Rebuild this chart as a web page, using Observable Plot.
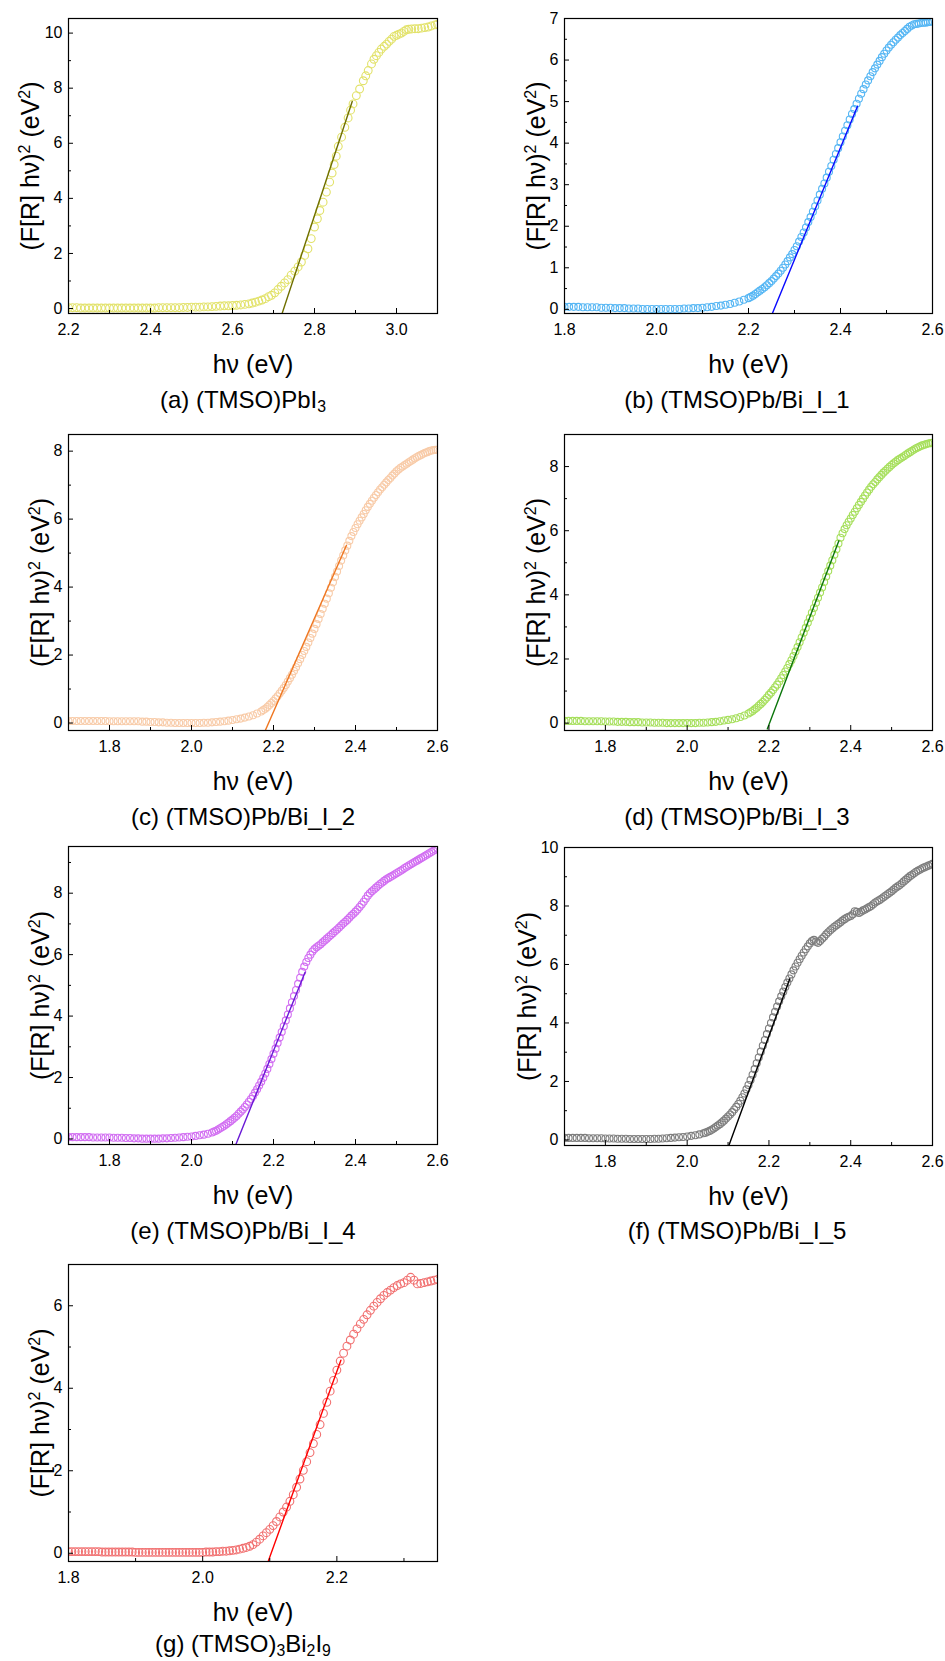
<!DOCTYPE html>
<html><head><meta charset="utf-8">
<script src="https://cdn.jsdelivr.net/npm/d3@7"></script>
<script src="https://cdn.jsdelivr.net/npm/@observablehq/plot@0.6"></script>
<style>
body{margin:0;background:#fff;}
#wrap{position:relative;width:945px;height:1661px;overflow:hidden;font-family:'Liberation Sans',Arial,sans-serif;background:#fff;}
.cap{position:absolute;font-size:24px;line-height:24px;white-space:nowrap;transform:translateX(-50%);color:#000;}
.cap .s{font-size:0.66em;vertical-align:-0.24em;}
</style></head><body><div id="wrap"></div>
<script>
// ---------------- DATA ----------------
const xTitle = "hν (eV)";
const yTitle = "(F[R] hν)² (eV²)";
const captions = [
  "(a) (TMSO)PbI<span class='s'>3</span>",
  "(b) (TMSO)Pb/Bi_I_1",
  "(c) (TMSO)Pb/Bi_I_2",
  "(d) (TMSO)Pb/Bi_I_3",
  "(e) (TMSO)Pb/Bi_I_4",
  "(f) (TMSO)Pb/Bi_I_5",
  "(g) (TMSO)<span class='s'>3</span>Bi<span class='s'>2</span>I<span class='s'>9</span>"
];

// (a) (TMSO)PbI3
const seriesA = [
[2.20,0.03],[2.21,0.03],[2.22,0.03],[2.23,0.02],[2.24,0.02],[2.25,0.02],[2.26,0.02],[2.27,0.02],[2.28,0.02],[2.29,0.02],
[2.30,0.02],[2.31,0.02],[2.32,0.02],[2.33,0.02],[2.34,0.02],[2.35,0.02],[2.36,0.02],[2.37,0.02],[2.38,0.02],[2.39,0.02],
[2.40,0.02],[2.41,0.02],[2.42,0.03],[2.43,0.03],[2.44,0.03],[2.45,0.03],[2.46,0.03],[2.47,0.03],[2.48,0.04],[2.49,0.04],
[2.50,0.05],[2.51,0.05],[2.52,0.05],[2.53,0.06],[2.54,0.06],[2.55,0.07],[2.56,0.08],[2.57,0.09],[2.58,0.10],[2.59,0.10],
[2.600,0.11],[2.610,0.12],[2.620,0.13],[2.630,0.15],[2.640,0.17],[2.648,0.20],[2.656,0.23],[2.664,0.27],[2.672,0.31],[2.680,0.36],
[2.688,0.43],[2.695,0.48],[2.703,0.57],[2.711,0.69],[2.719,0.81],[2.727,0.93],[2.735,1.05],[2.743,1.21],[2.752,1.36],[2.760,1.51],
[2.768,1.69],[2.776,1.93],[2.784,2.17],[2.792,2.54],[2.800,2.96],[2.807,3.26],[2.813,3.56],[2.821,3.86],[2.829,4.23],[2.837,4.59],
[2.843,4.92],[2.848,5.23],[2.853,5.53],[2.858,5.89],[2.866,6.22],[2.874,6.58],[2.882,6.92],[2.888,7.20],[2.894,7.43],[2.902,7.73],
[2.910,7.97],[2.919,8.27],[2.925,8.45],[2.931,8.64],[2.939,8.88],[2.945,9.05],[2.951,9.18],[2.957,9.30],[2.963,9.42],[2.970,9.52],
[2.976,9.60],[2.982,9.70],[2.988,9.78],[2.994,9.88],[3.000,9.92],[3.006,9.96],[3.012,10.00],[3.018,10.06],[3.024,10.12],[3.030,10.14],
[3.037,10.15],[3.045,10.16],[3.053,10.16],[3.061,10.18],[3.069,10.20],[3.077,10.22],[3.085,10.26],[3.094,10.30],[3.100,10.32]
];
const fitA = [[2.721,-0.18],[2.892,7.52]];

// (b) (TMSO)Pb/Bi_I_1
const seriesB = [
[1.80,0.06],[1.81,0.06],[1.82,0.06],[1.83,0.06],[1.84,0.05],[1.85,0.05],[1.86,0.05],[1.87,0.05],[1.88,0.04],[1.89,0.04],
[1.90,0.04],[1.91,0.03],[1.92,0.03],[1.93,0.03],[1.94,0.02],[1.95,0.02],[1.96,0.02],[1.97,0.01],[1.98,0.01],[1.99,0.01],
[2.00,0.01],[2.01,0.01],[2.02,0.01],[2.03,0.01],[2.04,0.01],[2.05,0.01],[2.06,0.02],[2.07,0.02],[2.08,0.03],[2.09,0.03],
[2.10,0.04],[2.11,0.05],[2.12,0.06],[2.13,0.08],[2.14,0.09],[2.15,0.11],[2.16,0.13],[2.17,0.16],[2.18,0.19],[2.19,0.23],
[2.20,0.27],[2.205,0.30],[2.21,0.33],[2.215,0.37],[2.22,0.41],[2.225,0.45],[2.23,0.49],[2.235,0.53],[2.24,0.58],[2.245,0.63],
[2.25,0.68],[2.255,0.74],[2.26,0.80],[2.265,0.86],[2.27,0.93],[2.275,1.00],[2.28,1.08],[2.285,1.16],[2.29,1.25],[2.295,1.33],
[2.30,1.43],[2.305,1.52],[2.31,1.63],[2.315,1.74],[2.32,1.85],[2.325,1.97],[2.33,2.10],[2.335,2.22],[2.34,2.35],[2.345,2.48],
[2.35,2.62],[2.355,2.76],[2.36,2.90],[2.365,3.03],[2.37,3.17],[2.375,3.31],[2.38,3.45],[2.385,3.60],[2.39,3.74],[2.395,3.88],
[2.40,4.02],[2.405,4.16],[2.41,4.30],[2.415,4.43],[2.42,4.57],[2.425,4.70],[2.43,4.82],[2.435,4.95],[2.44,5.07],[2.445,5.19],
[2.45,5.30],[2.455,5.41],[2.46,5.51],[2.465,5.61],[2.47,5.71],[2.475,5.80],[2.48,5.89],[2.485,5.98],[2.49,6.07],[2.495,6.15],
[2.50,6.23],[2.505,6.30],[2.51,6.37],[2.515,6.43],[2.52,6.49],[2.525,6.54],[2.53,6.60],[2.535,6.65],[2.54,6.70],[2.545,6.75],
[2.55,6.80],[2.555,6.83],[2.56,6.86],[2.565,6.87],[2.57,6.88],[2.575,6.89],[2.58,6.90],[2.585,6.90],[2.59,6.91],[2.595,6.92],[2.60,6.93]
];
const fitB = [[2.252,-0.096],[2.437,4.89]];

// (c) (TMSO)Pb/Bi_I_2
const seriesC = [
[1.70,0.06],[1.71,0.06],[1.72,0.06],[1.73,0.06],[1.74,0.06],[1.75,0.06],[1.76,0.06],[1.77,0.06],[1.78,0.06],[1.79,0.06],
[1.80,0.05],[1.81,0.05],[1.82,0.05],[1.83,0.05],[1.84,0.05],[1.85,0.05],[1.86,0.05],[1.87,0.05],[1.88,0.04],[1.89,0.04],
[1.90,0.03],[1.91,0.03],[1.92,0.02],[1.93,0.02],[1.94,0.01],[1.95,0.01],[1.96,0.00],[1.97,0.00],[1.98,0.00],[1.99,0.00],
[2.00,0.00],[2.01,0.00],[2.02,0.00],[2.03,0.01],[2.04,0.01],[2.05,0.02],[2.06,0.03],[2.07,0.04],[2.08,0.05],[2.09,0.07],
[2.10,0.09],[2.11,0.11],[2.12,0.13],[2.13,0.16],[2.14,0.19],[2.15,0.23],[2.16,0.28],[2.17,0.34],[2.175,0.38],[2.18,0.42],
[2.185,0.47],[2.19,0.53],[2.195,0.59],[2.20,0.65],[2.205,0.72],[2.21,0.79],[2.215,0.87],[2.22,0.95],[2.225,1.03],[2.23,1.12],
[2.235,1.22],[2.24,1.32],[2.245,1.42],[2.25,1.53],[2.255,1.64],[2.26,1.76],[2.265,1.88],[2.27,2.00],[2.275,2.12],[2.28,2.24],
[2.285,2.37],[2.29,2.50],[2.295,2.63],[2.30,2.77],[2.305,2.91],[2.31,3.06],[2.315,3.21],[2.32,3.36],[2.325,3.51],[2.33,3.66],
[2.335,3.82],[2.34,3.98],[2.345,4.14],[2.35,4.30],[2.355,4.46],[2.36,4.62],[2.365,4.78],[2.37,4.93],[2.375,5.08],[2.38,5.22],
[2.385,5.36],[2.39,5.50],[2.395,5.62],[2.40,5.74],[2.405,5.85],[2.41,5.95],[2.415,6.05],[2.42,6.15],[2.425,6.26],[2.43,6.36],
[2.435,6.45],[2.44,6.54],[2.445,6.63],[2.45,6.71],[2.455,6.79],[2.46,6.87],[2.465,6.94],[2.47,7.01],[2.475,7.08],[2.48,7.15],
[2.485,7.21],[2.49,7.28],[2.495,7.34],[2.50,7.41],[2.505,7.46],[2.51,7.51],[2.515,7.55],[2.52,7.59],[2.525,7.63],[2.53,7.67],
[2.535,7.71],[2.54,7.75],[2.545,7.79],[2.55,7.83],[2.555,7.86],[2.56,7.89],[2.565,7.92],[2.57,7.95],[2.575,7.97],[2.58,8.00],
[2.585,8.02],[2.59,8.03],[2.595,8.04],[2.60,8.04]
];
const fitC = [[2.180,-0.22],[2.378,5.23]];

// (d) (TMSO)Pb/Bi_I_3
const seriesD = [
[1.70,0.07],[1.71,0.07],[1.72,0.07],[1.73,0.07],[1.74,0.07],[1.75,0.06],[1.76,0.06],[1.77,0.06],[1.78,0.06],[1.79,0.06],
[1.80,0.05],[1.81,0.05],[1.82,0.05],[1.83,0.04],[1.84,0.04],[1.85,0.04],[1.86,0.03],[1.87,0.03],[1.88,0.03],[1.89,0.02],
[1.90,0.02],[1.91,0.02],[1.92,0.01],[1.93,0.01],[1.94,0.01],[1.95,0.00],[1.96,0.00],[1.97,0.00],[1.98,0.00],[1.99,0.00],
[2.00,0.00],[2.01,0.00],[2.02,0.00],[2.03,0.01],[2.04,0.01],[2.05,0.02],[2.06,0.03],[2.07,0.04],[2.08,0.06],[2.09,0.08],
[2.10,0.10],[2.11,0.12],[2.12,0.15],[2.13,0.19],[2.14,0.24],[2.15,0.30],[2.155,0.34],[2.16,0.38],[2.165,0.43],[2.17,0.48],
[2.175,0.54],[2.18,0.60],[2.185,0.66],[2.19,0.73],[2.195,0.80],[2.20,0.88],[2.205,0.95],[2.21,1.03],[2.215,1.12],[2.22,1.20],
[2.225,1.30],[2.23,1.40],[2.235,1.50],[2.24,1.61],[2.245,1.72],[2.25,1.84],[2.255,1.96],[2.26,2.09],[2.265,2.23],[2.27,2.37],
[2.275,2.52],[2.28,2.67],[2.285,2.82],[2.29,2.97],[2.295,3.13],[2.30,3.28],[2.305,3.44],[2.31,3.59],[2.315,3.75],[2.32,3.91],
[2.325,4.07],[2.33,4.23],[2.335,4.40],[2.34,4.57],[2.345,4.74],[2.35,4.91],[2.355,5.08],[2.36,5.25],[2.365,5.42],[2.37,5.60],
[2.375,5.78],[2.38,5.92],[2.385,6.05],[2.39,6.17],[2.395,6.28],[2.40,6.38],[2.405,6.49],[2.41,6.59],[2.415,6.70],[2.42,6.80],
[2.425,6.90],[2.43,7.00],[2.435,7.10],[2.44,7.19],[2.445,7.28],[2.45,7.37],[2.455,7.45],[2.46,7.52],[2.465,7.60],[2.47,7.67],
[2.475,7.74],[2.48,7.81],[2.485,7.87],[2.49,7.93],[2.495,7.99],[2.50,8.05],[2.505,8.10],[2.51,8.15],[2.515,8.20],[2.52,8.24],
[2.525,8.28],[2.53,8.32],[2.535,8.37],[2.54,8.41],[2.545,8.45],[2.55,8.49],[2.555,8.53],[2.56,8.57],[2.565,8.60],[2.57,8.63],
[2.575,8.66],[2.58,8.68],[2.585,8.70],[2.59,8.72],[2.595,8.73],[2.60,8.74]
];
const fitD = [[2.196,-0.18],[2.371,5.69]];

// (e) (TMSO)Pb/Bi_I_4
const seriesE = [
[1.70,0.06],[1.71,0.06],[1.72,0.06],[1.73,0.06],[1.74,0.06],[1.75,0.06],[1.76,0.05],[1.77,0.05],[1.78,0.05],[1.79,0.05],
[1.80,0.05],[1.81,0.04],[1.82,0.04],[1.83,0.04],[1.84,0.03],[1.85,0.03],[1.86,0.02],[1.87,0.02],[1.88,0.01],[1.89,0.01],
[1.90,0.01],[1.91,0.01],[1.92,0.01],[1.93,0.02],[1.94,0.02],[1.95,0.03],[1.96,0.04],[1.97,0.05],[1.98,0.06],[1.99,0.07],
[2.00,0.08],[2.01,0.10],[2.02,0.12],[2.03,0.14],[2.04,0.17],[2.05,0.21],[2.055,0.24],[2.06,0.27],[2.065,0.31],[2.07,0.35],
[2.075,0.39],[2.08,0.43],[2.085,0.48],[2.09,0.53],[2.095,0.58],[2.10,0.63],[2.105,0.69],[2.11,0.75],[2.115,0.82],[2.12,0.89],
[2.125,0.96],[2.13,1.04],[2.135,1.12],[2.14,1.21],[2.145,1.30],[2.15,1.40],[2.155,1.51],[2.16,1.62],[2.165,1.74],[2.17,1.86],
[2.175,1.99],[2.18,2.13],[2.185,2.28],[2.19,2.44],[2.195,2.60],[2.20,2.77],[2.205,2.94],[2.21,3.12],[2.215,3.30],[2.22,3.48],
[2.225,3.67],[2.23,3.86],[2.235,4.05],[2.24,4.25],[2.245,4.45],[2.25,4.65],[2.255,4.85],[2.26,5.05],[2.265,5.25],[2.27,5.44],
[2.275,5.61],[2.28,5.76],[2.285,5.89],[2.29,6.00],[2.295,6.10],[2.30,6.18],[2.305,6.24],[2.31,6.29],[2.315,6.34],[2.32,6.40],
[2.325,6.46],[2.33,6.52],[2.335,6.58],[2.34,6.64],[2.345,6.70],[2.35,6.76],[2.355,6.82],[2.36,6.88],[2.365,6.95],[2.37,7.01],
[2.375,7.07],[2.38,7.13],[2.385,7.20],[2.39,7.27],[2.395,7.33],[2.40,7.40],[2.405,7.47],[2.41,7.55],[2.415,7.63],[2.42,7.72],
[2.425,7.82],[2.43,7.92],[2.435,8.00],[2.44,8.06],[2.445,8.12],[2.45,8.18],[2.455,8.24],[2.46,8.30],[2.465,8.35],[2.47,8.40],
[2.475,8.45],[2.48,8.49],[2.485,8.53],[2.49,8.57],[2.495,8.61],[2.50,8.65],[2.505,8.69],[2.51,8.73],[2.515,8.77],[2.52,8.82],
[2.525,8.86],[2.53,8.90],[2.535,8.94],[2.54,8.98],[2.545,9.02],[2.55,9.06],[2.555,9.10],[2.56,9.14],[2.565,9.18],[2.57,9.22],
[2.575,9.26],[2.58,9.30],[2.585,9.34],[2.59,9.38],[2.595,9.42],[2.60,9.46]
];
const fitE = [[2.107,-0.22],[2.277,5.43]];

// (f) (TMSO)Pb/Bi_I_5
const seriesF = [
[1.70,0.07],[1.71,0.07],[1.72,0.07],[1.73,0.07],[1.74,0.07],[1.75,0.07],[1.76,0.06],[1.77,0.06],[1.78,0.06],[1.79,0.06],
[1.80,0.05],[1.81,0.05],[1.82,0.05],[1.83,0.04],[1.84,0.04],[1.85,0.04],[1.86,0.03],[1.87,0.03],[1.88,0.03],[1.89,0.03],
[1.90,0.03],[1.91,0.03],[1.92,0.04],[1.93,0.04],[1.94,0.05],[1.95,0.06],[1.96,0.07],[1.97,0.08],[1.98,0.09],[1.99,0.10],
[2.00,0.12],[2.01,0.14],[2.02,0.16],[2.03,0.19],[2.04,0.23],[2.045,0.25],[2.05,0.28],[2.055,0.31],[2.06,0.35],[2.065,0.39],
[2.07,0.44],[2.075,0.49],[2.08,0.54],[2.085,0.60],[2.09,0.66],[2.095,0.73],[2.10,0.80],[2.105,0.87],[2.11,0.95],[2.115,1.04],
[2.12,1.13],[2.125,1.23],[2.13,1.34],[2.135,1.46],[2.14,1.59],[2.145,1.73],[2.15,1.88],[2.155,2.05],[2.16,2.23],[2.165,2.42],
[2.17,2.62],[2.175,2.82],[2.18,3.02],[2.185,3.22],[2.19,3.42],[2.195,3.62],[2.20,3.81],[2.205,4.00],[2.21,4.19],[2.215,4.38],
[2.22,4.56],[2.225,4.74],[2.23,4.91],[2.235,5.07],[2.24,5.23],[2.245,5.38],[2.25,5.52],[2.255,5.66],[2.26,5.80],[2.265,5.93],
[2.27,6.06],[2.275,6.18],[2.28,6.30],[2.285,6.41],[2.29,6.52],[2.295,6.62],[2.30,6.72],[2.305,6.80],[2.31,6.84],[2.315,6.78],
[2.32,6.74],[2.325,6.80],[2.33,6.88],[2.335,6.95],[2.34,7.03],[2.345,7.10],[2.35,7.17],[2.355,7.23],[2.36,7.29],[2.365,7.34],
[2.37,7.39],[2.375,7.44],[2.38,7.50],[2.385,7.55],[2.39,7.60],[2.395,7.63],[2.40,7.66],[2.405,7.72],[2.41,7.82],[2.415,7.80],
[2.42,7.76],[2.425,7.80],[2.43,7.85],[2.435,7.88],[2.44,7.92],[2.445,7.96],[2.45,8.00],[2.455,8.06],[2.46,8.12],[2.465,8.16],
[2.47,8.20],[2.475,8.25],[2.48,8.30],[2.485,8.35],[2.49,8.40],[2.495,8.45],[2.50,8.50],[2.505,8.56],[2.51,8.62],[2.515,8.67],
[2.52,8.72],[2.525,8.78],[2.53,8.84],[2.535,8.90],[2.54,8.96],[2.545,9.02],[2.55,9.07],[2.555,9.12],[2.56,9.17],[2.565,9.21],
[2.57,9.25],[2.575,9.29],[2.58,9.32],[2.585,9.35],[2.59,9.38],[2.595,9.41],[2.60,9.44]
];
const fitF = [[2.102,-0.19],[2.251,5.51]];

// (g) (TMSO)3Bi2I9
const seriesG = [
[1.800,0.04],[1.805,0.04],[1.810,0.04],[1.815,0.04],[1.820,0.04],[1.825,0.04],[1.830,0.04],[1.835,0.04],[1.840,0.04],[1.845,0.04],
[1.850,0.03],[1.855,0.03],[1.860,0.03],[1.865,0.03],[1.870,0.03],[1.875,0.03],[1.880,0.03],[1.885,0.03],[1.890,0.03],[1.895,0.03],
[1.900,0.02],[1.905,0.02],[1.910,0.02],[1.915,0.02],[1.920,0.02],[1.925,0.02],[1.930,0.02],[1.935,0.02],[1.940,0.02],[1.945,0.02],
[1.950,0.02],[1.955,0.02],[1.960,0.02],[1.965,0.02],[1.970,0.02],[1.975,0.02],[1.980,0.02],[1.985,0.02],[1.990,0.02],[1.995,0.02],
[2.000,0.02],[2.005,0.03],[2.010,0.03],[2.015,0.03],[2.020,0.04],[2.025,0.04],[2.030,0.05],[2.035,0.05],[2.040,0.06],[2.045,0.07],
[2.050,0.08],[2.055,0.10],[2.060,0.12],[2.065,0.14],[2.070,0.17],[2.075,0.21],[2.080,0.27],[2.085,0.34],[2.090,0.42],[2.095,0.50],
[2.100,0.58],[2.105,0.67],[2.110,0.77],[2.115,0.88],[2.120,1.00],[2.125,1.12],[2.130,1.26],[2.135,1.42],[2.140,1.60],[2.145,1.80],
[2.150,2.01],[2.155,2.22],[2.160,2.44],[2.165,2.66],[2.170,2.88],[2.175,3.12],[2.180,3.39],[2.185,3.66],[2.190,3.93],[2.195,4.19],
[2.200,4.44],[2.205,4.66],[2.210,4.85],[2.215,5.02],[2.220,5.17],[2.225,5.31],[2.230,5.44],[2.235,5.56],[2.240,5.67],[2.245,5.78],
[2.250,5.89],[2.255,5.99],[2.260,6.08],[2.265,6.17],[2.270,6.25],[2.275,6.32],[2.280,6.38],[2.285,6.44],[2.290,6.49],[2.295,6.53],
[2.300,6.56],[2.305,6.62],[2.310,6.69],[2.315,6.62],[2.320,6.53],[2.325,6.54],[2.330,6.56],[2.335,6.58],[2.340,6.60],[2.345,6.62],[2.350,6.64]
];
const fitG = [[2.098,-0.18],[2.206,4.68]];

// axis ranges and ticks
const xDomA = [2.2, 3.1],  yDomA = [-0.18, 10.53];
const xDomB = [1.8, 2.6],  yDomB = [-0.1, 7.0];
const xDomC = [1.7, 2.6],  yDomC = [-0.22, 8.49];
const xDomD = [1.7, 2.6],  yDomD = [-0.23, 9.0];
const xDomE = [1.7, 2.6],  yDomE = [-0.18, 9.52];
const xDomF = [1.7, 2.6],  yDomF = [-0.19, 10.0];
const xDomG = [1.8, 2.35], yDomG = [-0.2, 7.0];

const xMajorA = [2.2, 2.4, 2.6, 2.8, 3.0], xMinorA = [2.3, 2.5, 2.7, 2.9];
const xMajorBF = [1.8, 2.0, 2.2, 2.4, 2.6], xMinorBF = [1.9, 2.1, 2.3, 2.5];
const xMajorG = [1.8, 2.0, 2.2], xMinorG = [1.9, 2.1, 2.3];
const yMajorA = [0, 2, 4, 6, 8, 10], yMinorA = [1, 3, 5, 7, 9];
const yMajorB = [0, 1, 2, 3, 4, 5, 6, 7], yMinorB = [0.5, 1.5, 2.5, 3.5, 4.5, 5.5, 6.5];
const yMajorC = [0, 2, 4, 6, 8], yMinorC = [1, 3, 5, 7];
const yMajorE = [0, 2, 4, 6, 8], yMinorE = [1, 3, 5, 7, 9];
const yMajorF = [0, 2, 4, 6, 8, 10], yMinorF = [1, 3, 5, 7, 9];
const yMajorG = [0, 2, 4, 6], yMinorG = [1, 3, 5];

// ---------------- LAYOUT / STYLE ----------------
const FONT = "'Liberation Sans', Arial, Helvetica, sans-serif";
const TITLE_FS = 25;
const col1 = {left: 0, width: 470, mL: 68, mR: 33, capX: 243};
const col2 = {left: 470, width: 475, mL: 94, mR: 13, capX: 737};
const panels = [
  {...col1, top: 0,    frameH: 295, data: seriesA, fit: fitA, xd: xDomA, yd: yDomA, xM: xMajorA, xm: xMinorA, yM: yMajorA, ym: yMinorA, dot: "#e2e26a", line: "#6f6f00", r: 3.9, ydx: -30, capY: 408, cap: captions[0]},
  {...col2, top: 0,    frameH: 295, data: seriesB, fit: fitB, xd: xDomB, yd: yDomB, xM: xMajorBF, xm: xMinorBF, yM: yMajorB, ym: yMinorB, dot: "#55b6f4", line: "#0a0aff", r: 3.5, ydx: -20, capY: 408, cap: captions[1]},
  {...col1, top: 416,  frameH: 296, data: seriesC, fit: fitC, xd: xDomC, yd: yDomC, xM: xMajorBF, xm: xMinorBF, yM: yMajorC, ym: yMinorC, dot: "#f8cba8", line: "#ef7722", r: 3.5, ydx: -20, capY: 825, cap: captions[2]},
  {...col2, top: 416,  frameH: 296, data: seriesD, fit: fitD, xd: xDomD, yd: yDomD, xM: xMajorBF, xm: xMinorBF, yM: yMajorC, ym: yMinorC, dot: "#a6df5c", line: "#0b760b", r: 3.5, ydx: -20, capY: 825, cap: captions[3]},
  {...col1, top: 828,  frameH: 298, data: seriesE, fit: fitE, xd: xDomE, yd: yDomE, xM: xMajorBF, xm: xMinorBF, yM: yMajorE, ym: yMinorE, dot: "#d26ef2", line: "#6a1ad6", r: 3.5, ydx: -20, capY: 1239, cap: captions[4]},
  {...col2, top: 829,  frameH: 298, data: seriesF, fit: fitF, xd: xDomF, yd: yDomF, xM: xMajorBF, xm: xMinorBF, yM: yMajorF, ym: yMinorF, dot: "#7e7e7e", line: "#000000", r: 3.5, ydx: -29, capY: 1239, cap: captions[5]},
  {...col1, top: 1246, frameH: 297, data: seriesG, fit: fitG, xd: xDomG, yd: yDomG, xM: xMajorG, xm: xMinorG, yM: yMajorG, ym: yMinorG, dot: "#f17070", line: "#ff0000", r: 3.9, ydx: -20, capY: 1652, cap: captions[6]}
];

// turn "²" into a real raised, smaller "2" inside SVG text
function superscripts(svg, fs) {
  const NS = "http://www.w3.org/2000/svg";
  for (const t of svg.querySelectorAll("text")) {
    const s = t.textContent;
    if (!s.includes("²")) continue;
    t.textContent = "";
    const shift = fs * 0.36;
    let raised = false;
    for (const part of s.split(/(²)/)) {
      if (!part) continue;
      const ts = document.createElementNS(NS, "tspan");
      if (part === "²") {
        ts.textContent = "2";
        ts.setAttribute("font-size", (fs * 0.64).toFixed(1));
        ts.setAttribute("dy", (-shift).toFixed(1));
        raised = true;
      } else {
        ts.textContent = part;
        if (raised) { ts.setAttribute("dy", shift.toFixed(1)); raised = false; }
      }
      t.appendChild(ts);
    }
  }
}

const wrap = document.getElementById("wrap");
const MT = 18, MB = 72;
for (const p of panels) {
  const H = MT + p.frameH + MB;
  const fw = p.width - p.mL - p.mR;
  const svg = Plot.plot({
    width: p.width, height: H,
    marginLeft: p.mL, marginRight: p.mR, marginTop: MT, marginBottom: MB,
    style: {fontFamily: FONT, color: "#000", background: "transparent", overflow: "visible"},
    x: {domain: p.xd}, y: {domain: p.yd},
    marks: [
      Plot.dot(p.data, {x: d => d[0], y: d => d[1], r: p.r, stroke: p.dot, strokeWidth: 1.1, fill: "none", clip: true}),
      Plot.line(p.fit, {x: d => d[0], y: d => d[1], stroke: p.line, strokeWidth: 1.4, clip: true}),
      Plot.ruleX(p.xM, {insetTop: p.frameH - 5, stroke: "#000", strokeWidth: 1}),
      Plot.ruleX(p.xm, {insetTop: p.frameH - 3, stroke: "#000", strokeWidth: 1}),
      Plot.ruleY(p.yM, {insetRight: fw - 5, stroke: "#000", strokeWidth: 1}),
      Plot.ruleY(p.ym, {insetRight: fw - 3, stroke: "#000", strokeWidth: 1}),
      Plot.axisX(p.xM, {tickSize: 0, tickPadding: 10, tickFormat: d3.format(".1f"), fontSize: 16, label: null}),
      Plot.axisY(p.yM, {tickSize: 0, tickPadding: 6, tickFormat: d => String(d), fontSize: 16, label: null}),
      Plot.text([xTitle], {frameAnchor: "bottom", textAnchor: "middle", dy: 59, lineAnchor: "bottom", fontSize: TITLE_FS, fill: "#000"}),
      Plot.text([yTitle], {frameAnchor: "left", textAnchor: "middle", rotate: -90, dx: p.ydx, lineAnchor: "bottom", fontSize: TITLE_FS, fill: "#000"}),
      Plot.frame({stroke: "#000", strokeWidth: 1.2})
    ]
  });
  superscripts(svg, TITLE_FS);
  svg.style.position = "absolute";
  svg.style.left = p.left + "px";
  svg.style.top = p.top + "px";
  svg.style.maxWidth = "none";
  wrap.appendChild(svg);

  const cap = document.createElement("div");
  cap.className = "cap";
  cap.innerHTML = p.cap;
  cap.style.left = p.capX + "px";
  cap.style.top = (p.capY - 20.3) + "px";
  wrap.appendChild(cap);
}
</script>
</body></html>
